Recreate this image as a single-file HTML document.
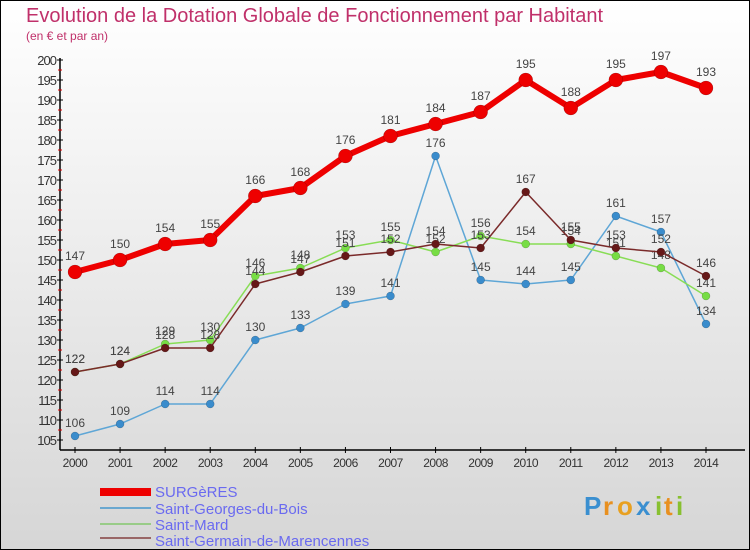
<!DOCTYPE html>
<html><head><meta charset="utf-8"><style>
body{margin:0}
#c{width:750px;height:550px;position:relative;overflow:hidden}
svg text{font-family:"Liberation Sans",sans-serif}
</style></head><body>
<div id="c">
<svg id="s" width="750" height="550" xmlns="http://www.w3.org/2000/svg">
<defs><linearGradient id="bg" x1="0" y1="0" x2="0" y2="1"><stop offset="0" stop-color="#ffffff"/><stop offset="1" stop-color="#d6d6d6"/></linearGradient></defs>
<rect x="0.5" y="0.5" width="749" height="549" fill="url(#bg)" stroke="#000"/>
<text x="26" y="22" font-size="20" fill="#c0306a">Evolution de la Dotation Globale de Fonctionnement par Habitant</text>
<text x="26" y="40" font-size="12" fill="#c0306a">(en € et par an)</text>
<g id="axes"></g><g id="series"></g>
<g>
<rect x="100" y="488" width="51" height="8" fill="#ee0000"/>
<text x="155" y="497" font-size="15" fill="#6a6af0">SURGèRES</text>
<rect x="100" y="507" width="51" height="2" fill="#6aa8d0"/>
<text x="155" y="514" font-size="15" fill="#6a6af0">Saint-Georges-du-Bois</text>
<rect x="100" y="523" width="51" height="2" fill="#99cc88"/>
<text x="155" y="530" font-size="15" fill="#6a6af0">Saint-Mard</text>
<rect x="100" y="537" width="51" height="2" fill="#996666"/>
<text x="155" y="546" font-size="15" fill="#6a6af0">Saint-Germain-de-Marencennes</text>
</g>
<g font-size="26" font-weight="bold">
<text x="584" y="515" fill="#3a8fd0">P</text><text x="603" y="515" fill="#e89020">r</text><text x="617" y="515" fill="#e8a020">o</text><text x="636" y="515" fill="#3a8fd0">x</text><text x="655" y="515" fill="#88c030">i</text><text x="664" y="515" fill="#e89020">t</text><text x="676" y="515" fill="#88c030">i</text>
</g>
</svg></div>
<script>
const years=[2000,2001,2002,2003,2004,2005,2006,2007,2008,2009,2010,2011,2012,2013,2014];
const surgeres=[147,150,154,155,166,168,176,181,184,187,195,188,195,197,193];
const stGeorges=[106,109,114,114,130,133,139,141,176,145,144,145,161,157,134];
const stMard=[122,124,129,130,146,148,153,155,152,156,154,154,151,148,141];
const stGermain=[122,124,128,128,144,147,151,152,154,153,167,155,153,152,146];
const yTicks=[105,110,115,120,125,130,135,140,145,150,155,160,165,170,175,180,185,190,195,200];
const NS='http://www.w3.org/2000/svg';
const xS=i=>75+i*(706-75)/(years.length-1);
const yS=v=>60+(200-v)*4;
function mk(t,a,p){const e=document.createElementNS(NS,t);for(const k in a)e.setAttribute(k,a[k]);p.appendChild(e);return e;}
const ax=document.getElementById('axes');
const yl=mk('line',{x1:60,y1:58,x2:60,y2:450,stroke:'#000','stroke-width':1.5},ax);


const xl=mk('line',{x1:60,y1:450,x2:745,y2:450,stroke:'#000','stroke-width':1.5},ax);


yTicks.forEach(v=>{
 const y=yS(v);
 mk('line',{x1:57,y1:y,x2:63,y2:y,stroke:'#000'},ax);
 if(v<200)mk('line',{x1:58,y1:y-10,x2:62,y2:y-10,stroke:'#e00000'},ax);
 const t=mk('text',{x:56,y:y+5,'font-size':13,'text-anchor':'end',fill:'#333','letter-spacing':'-1'},ax);
 t.textContent=v;
 
 
});
years.forEach((yr,i)=>{
 const x=xS(i);
 mk('line',{x1:x,y1:447,x2:x,y2:453,stroke:'#000'},ax);
 const t=mk('text',{x:x,y:467,'font-size':12,'text-anchor':'middle',fill:'#333','letter-spacing':'-0.5'},ax);
 t.textContent=yr;
 
 
});
const sg=document.getElementById('series');
function draw(vals,color,dot,w,r,name){
 const g=mk('g',{},sg);
 
 
 const pts=vals.map((v,i)=>xS(i)+','+yS(v)).join(' ');
 mk('polyline',{points:pts,fill:'none',stroke:color,'stroke-width':w,'stroke-linejoin':'round'},g);
 vals.forEach((v,i)=>{
  const c=mk('circle',{cx:xS(i),cy:yS(v),r:r,fill:dot,stroke:'rgba(0,0,0,0.3)','stroke-width':0.5},g);
  
  
  const t=mk('text',{x:xS(i),y:yS(v)-r-5,'font-size':12,'text-anchor':'middle',fill:'#444'},g);
  t.textContent=v;
  
  
 });
}
draw(stGeorges,'#5ea6d6','#3a8ccc',1.5,4,'series-saint-georges');
draw(stMard,'#88dd55','#77dd44',1.5,4,'series-saint-mard');
draw(stGermain,'#7a2a2a','#661818',1.5,4,'series-saint-germain');
draw(surgeres,'#ee0000','#ee0000',6,7,'series-surgeres');
</script>
</body></html>
